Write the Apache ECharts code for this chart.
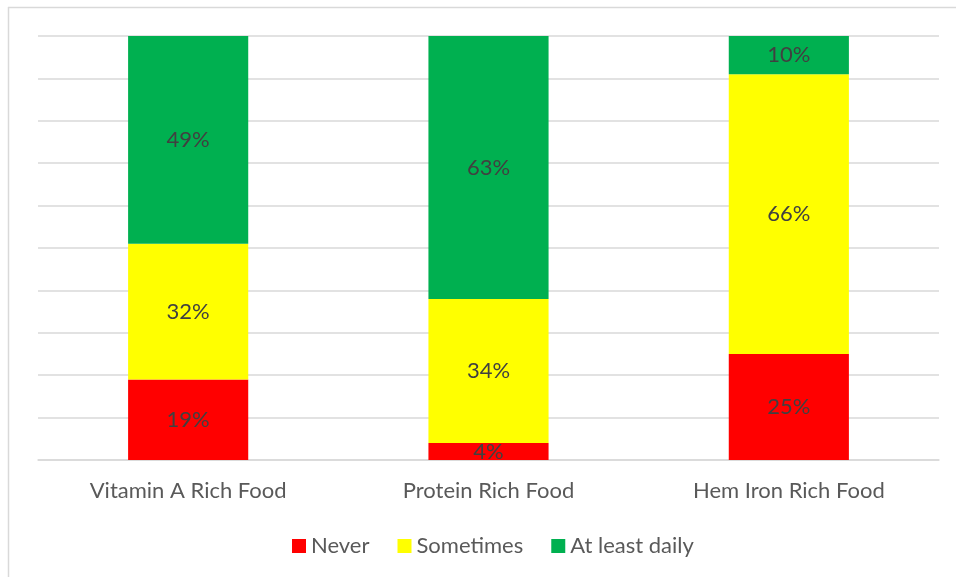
<!DOCTYPE html>
<html>
<head>
<meta charset="utf-8">
<script src="https://cdn.jsdelivr.net/npm/echarts@6/dist/echarts.min.js"></script>
<style>
  html, body { margin: 0; padding: 0; background: #fff; }
  #chart { width: 956px; height: 577px; }
</style>
</head>
<body>
<div id="chart"></div>
<script>
// Food groups and how often each is eaten (percent of respondents)
const categories = ['Vitamin A Rich Food', 'Protein Rich Food', 'Hem Iron Rich Food'];
const never = [19, 4, 25];
const sometimes = [32, 34, 66];
const atLeastDaily = [49, 63, 10];

const FONT = 'Lato';

function seriesOf(name, values, color) {
  return {
    name: name,
    type: 'bar',
    stack: 'freq',
    barWidth: '40%',
    data: values,
    itemStyle: { color: color },
    label: {
      show: true,
      position: 'inside',
      formatter: '{c}%',
      color: '#404040',
      fontFamily: FONT,
      fontSize: 22
    }
  };
}

const chart = echarts.init(document.getElementById('chart'), null, { renderer: 'canvas' });
chart.setOption({
  backgroundColor: '#ffffff',
  animation: false,
  graphic: [
    { type: 'line', shape: { x1: 8.5, y1: 7, x2: 8.5, y2: 577 }, style: { stroke: '#d9d9d9', lineWidth: 1.5 } },
    { type: 'line', shape: { x1: 8, y1: 7.5, x2: 956, y2: 7.5 }, style: { stroke: '#d9d9d9', lineWidth: 1.5 } }
  ],
  grid: { left: 38, right: 17, top: 36, bottom: 117, containLabel: false },
  legend: {
    bottom: 15,
    left: 287,
    itemWidth: 14,
    itemHeight: 14,
    itemGap: 28,
    icon: 'rect',
    textStyle: { color: '#595959', fontFamily: FONT, fontSize: 22 },
    data: ['Never', 'Sometimes', 'At least daily']
  },
  xAxis: {
    type: 'category',
    data: categories,
    axisLine: { lineStyle: { color: '#d9d9d9', width: 1.5 } },
    axisTick: { show: false },
    axisLabel: { color: '#595959', fontFamily: FONT, fontSize: 22, margin: 20 }
  },
  yAxis: {
    type: 'value',
    min: 0,
    max: 100,
    interval: 10,
    axisLabel: { show: false },
    axisLine: { show: false },
    axisTick: { show: false },
    splitLine: { lineStyle: { color: '#d9d9d9', width: 1.5 } }
  },
  series: [
    seriesOf('Never', never, '#ff0000'),
    seriesOf('Sometimes', sometimes, '#ffff00'),
    seriesOf('At least daily', atLeastDaily, '#00b050')
  ]
});
</script>
</body>
</html>
